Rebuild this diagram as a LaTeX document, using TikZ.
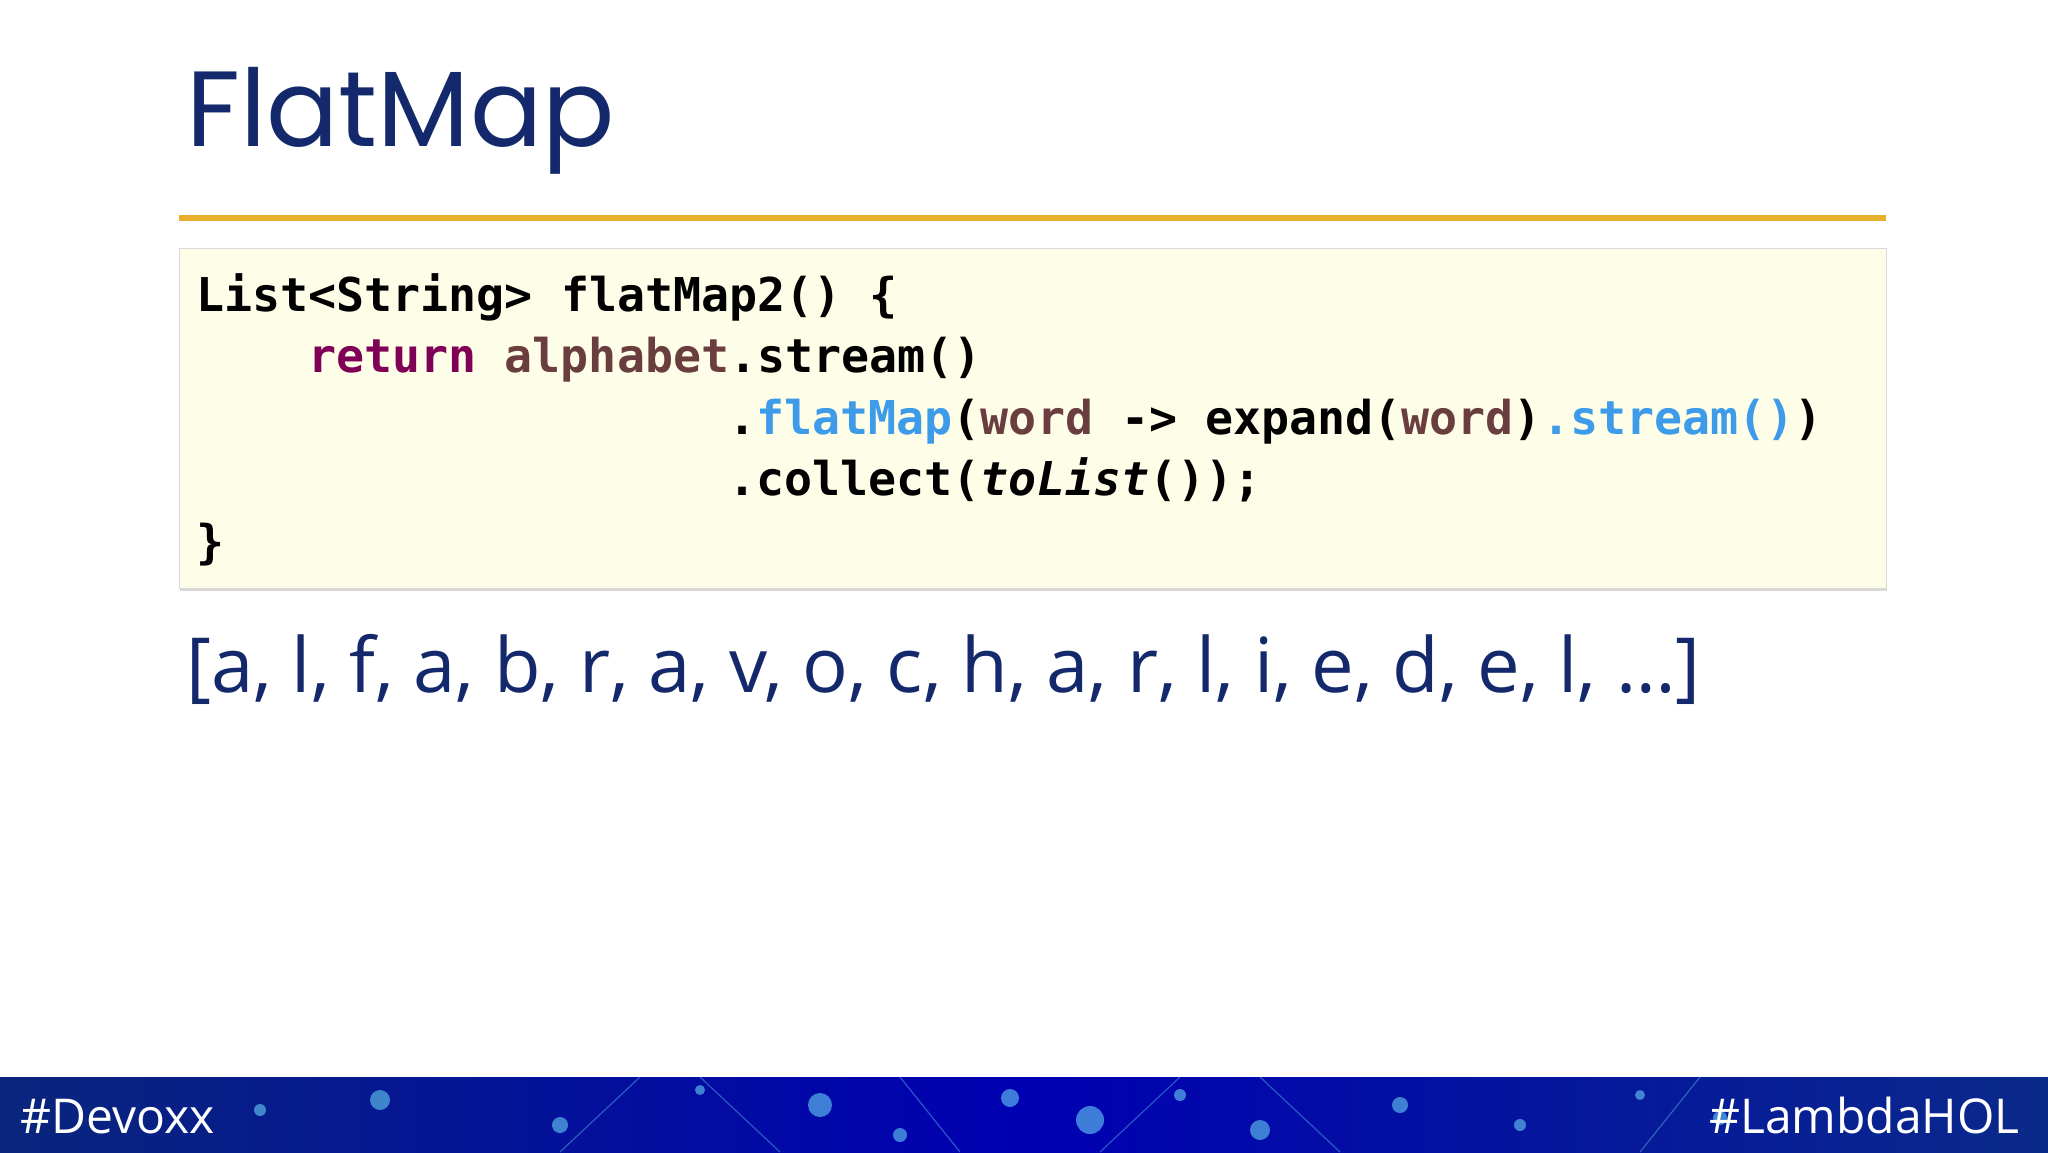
\documentclass[tikz,border=0pt]{standalone}
\usepackage{fontspec}
\setmainfont{Open Sans}
\newfontfamily\titlefont{Poppins}
\setmonofont{DejaVu Sans Mono}
\usetikzlibrary{shadows}
\definecolor{navy}{HTML}{13296B}
\definecolor{kw}{HTML}{7F0055}
\definecolor{var}{HTML}{6A3E3E}
\definecolor{mth}{HTML}{3D9BE9}
\definecolor{codebg}{HTML}{FEFDE8}
\definecolor{bar}{HTML}{0A2A8A}
\definecolor{gold}{HTML}{E9B02E}
\tikzset{codeline/.style={anchor=base west,inner sep=0pt,font=\ttfamily\bfseries\fontsize{23.3}{28}\selectfont},
dot/.style={fill=cyan!60!white,opacity=0.6,draw=none}}
\begin{document}
\begin{tikzpicture}[x=0.5pt,y=-0.5pt]
\useasboundingbox (0,0) rectangle (2048,1152);
\fill[white] (0,0) rectangle (2048,1152);
\node[anchor=base west,inner sep=0pt,text=navy,font=\titlefont\fontsize{53.5}{60}\selectfont] (title) at (186,146) {FlatMap};
\draw[line width=3.3pt,color=gold] (179,218) -- (1886,218);
\node[draw=black!15,fill=codebg,drop shadow={shadow xshift=0.5pt,shadow yshift=-1.5pt,opacity=0.3},minimum width=853.5pt,minimum height=170pt,inner sep=0pt,anchor=north west] (box) at (179,248) {};
\node[codeline] (l1) at (196,311) {List<String> flatMap2() \{};
\node[codeline] (l2) at (308,372) {\textcolor{kw}{return} \textcolor{var}{alphabet}.stream()};
\node[codeline] (l3) at (728,434) {.\textcolor{mth}{flatMap}(\textcolor{var}{word} -> expand(\textcolor{var}{word})\textcolor{mth}{.stream()})};
\node[codeline] (l4) at (728,495) {.collect(\textit{toList}());};
\node[codeline] (l5) at (196,558) {\}};
\node[anchor=base west,inner sep=0pt,text=navy,font=\fontsize{38}{46}\selectfont] (list) at (186,692) {[a, l, f, a, b, r, a, v, o, c, h, a, r, l, i, e, d, e, l, …]};
\shade[left color=bar!90!black,right color=bar,middle color=blue!70!black] (0,1077) rectangle (2048,1152);
\foreach \x/\y/\r in {260/1110/6,380/1100/10,560/1125/8,700/1090/5,820/1105/12,900/1135/7,1010/1098/9,1090/1120/14,1180/1095/6,1260/1130/10,1400/1105/8,1520/1125/6,1640/1095/5,1720/1118/7}
  \fill[dot] (\x,\y) circle (\r);
\foreach \a/\b/\c/\d in {700/1077/780/1152,1180/1077/1100/1152,1260/1077/1340/1152,560/1152/640/1077,1640/1152/1700/1077,900/1077/960/1152}
  \draw[cyan!60!white,opacity=0.4,line width=0.6pt] (\a,\b) -- (\c,\d);
\node[anchor=base west,inner sep=0pt,text=white,font=\fontsize{24}{28}\selectfont] (dev) at (20,1133) {\#Devoxx};
\node[anchor=base east,inner sep=0pt,text=white,font=\fontsize{24}{28}\selectfont] (hol) at (2020,1133) {\#LambdaHOL};
\end{tikzpicture}
\end{document}
